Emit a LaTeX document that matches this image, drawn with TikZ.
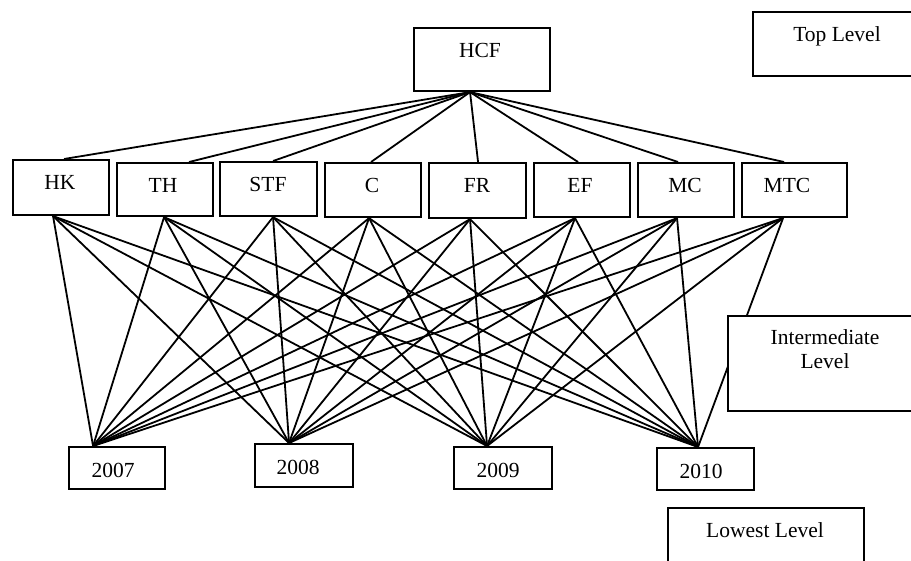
\documentclass[tikz,border=0pt]{standalone}
\usepackage{fontspec}
\setmainfont{Liberation Serif}
\begin{document}
\begin{tikzpicture}[x=1pt,y=-1pt,
  box/.style={draw, line width=2.1pt, fill=white, inner sep=0pt, anchor=north west},
  lbl/.style={font=\fontsize{21.5}{24}\selectfont, inner sep=0pt, anchor=base},
  conn/.style={line width=1.8pt}]
\useasboundingbox (0,0) rectangle (911,560);
\clip (0,0) rectangle (911,560);
\fill[white] (0,0) rectangle (911,560);

% top
\node[box, minimum width=136, minimum height=63] (HCF) at (413,27) {};
\node[lbl] (HCFl) at (480,57) {HCF};

% intermediate criteria
\node[box, minimum width=96, minimum height=55] (HK)  at (12,159) {};
\node[box, minimum width=96, minimum height=53] (TH)  at (116,162) {};
\node[box, minimum width=97, minimum height=54] (STF) at (219,161) {};
\node[box, minimum width=96, minimum height=54] (C)   at (324,162) {};
\node[box, minimum width=97, minimum height=55] (FR)  at (428,162) {};
\node[box, minimum width=96, minimum height=54] (EF)  at (533,162) {};
\node[box, minimum width=96, minimum height=54] (MC)  at (637,162) {};
\node[box, minimum width=105, minimum height=54] (MTC) at (741,162) {};

\node[lbl] (HKl)  at (60,189)  {HK};
\node[lbl] (THl)  at (163,192) {TH};
\node[lbl] (STFl) at (268,191) {STF};
\node[lbl] (Cl)   at (372,192) {C};
\node[lbl] (FRl)  at (477,192) {FR};
\node[lbl] (EFl)  at (580,192) {EF};
\node[lbl] (MCl)  at (685,192) {MC};
\node[lbl] (MTCl) at (787,192) {MTC};

% years
\node[box, minimum width=96, minimum height=42] (Y7)  at (68,446) {};
\node[box, minimum width=98, minimum height=43] (Y8)  at (254,443) {};
\node[box, minimum width=98, minimum height=42] (Y9)  at (453,446) {};
\node[box, minimum width=97, minimum height=42] (Y10) at (656,447) {};
\node[lbl] (Y7l)  at (113,477) {2007};
\node[lbl] (Y8l)  at (298,474) {2008};
\node[lbl] (Y9l)  at (498,477) {2009};
\node[lbl] (Y10l) at (701,478) {2010};

% connectors HCF -> criteria
\foreach \n/\dx in {HK/3, TH/24, STF/4.5, C/-2, FR/0.5, EF/-4, MC/-8, MTC/-10.5}
  \draw[conn] ([xshift=-12pt]HCF.south) -- ([xshift=\dx pt]\n.north);

% connectors criteria -> years
\foreach \n/\dx in {HK/-8, TH/-1, STF/4.5, C/-4, FR/-7.5, EF/-7, MC/-9, MTC/-11.5}
  \foreach \y/\dy in {Y7/-24, Y8/-15, Y9/-16, Y10/-7.5}
    \draw[conn] ([xshift=\dx pt]\n.south) -- ([xshift=\dy pt]\y.north);

% level boxes
\node[box, minimum width=200, minimum height=64] (TopL) at (752,11) {};
\node[lbl] (TopLl) at (837,41) {Top Level};
\node[box, minimum width=200, minimum height=95] (IntL) at (727,315) {};
\node[lbl, align=center, anchor=north] (IntLl) at (825,329) {Intermediate\\Level};
\node[box, minimum width=196, minimum height=80] (LowL) at (667,507) {};
\node[lbl] (LowLl) at (765,537) {Lowest Level};
\end{tikzpicture}
\end{document}
